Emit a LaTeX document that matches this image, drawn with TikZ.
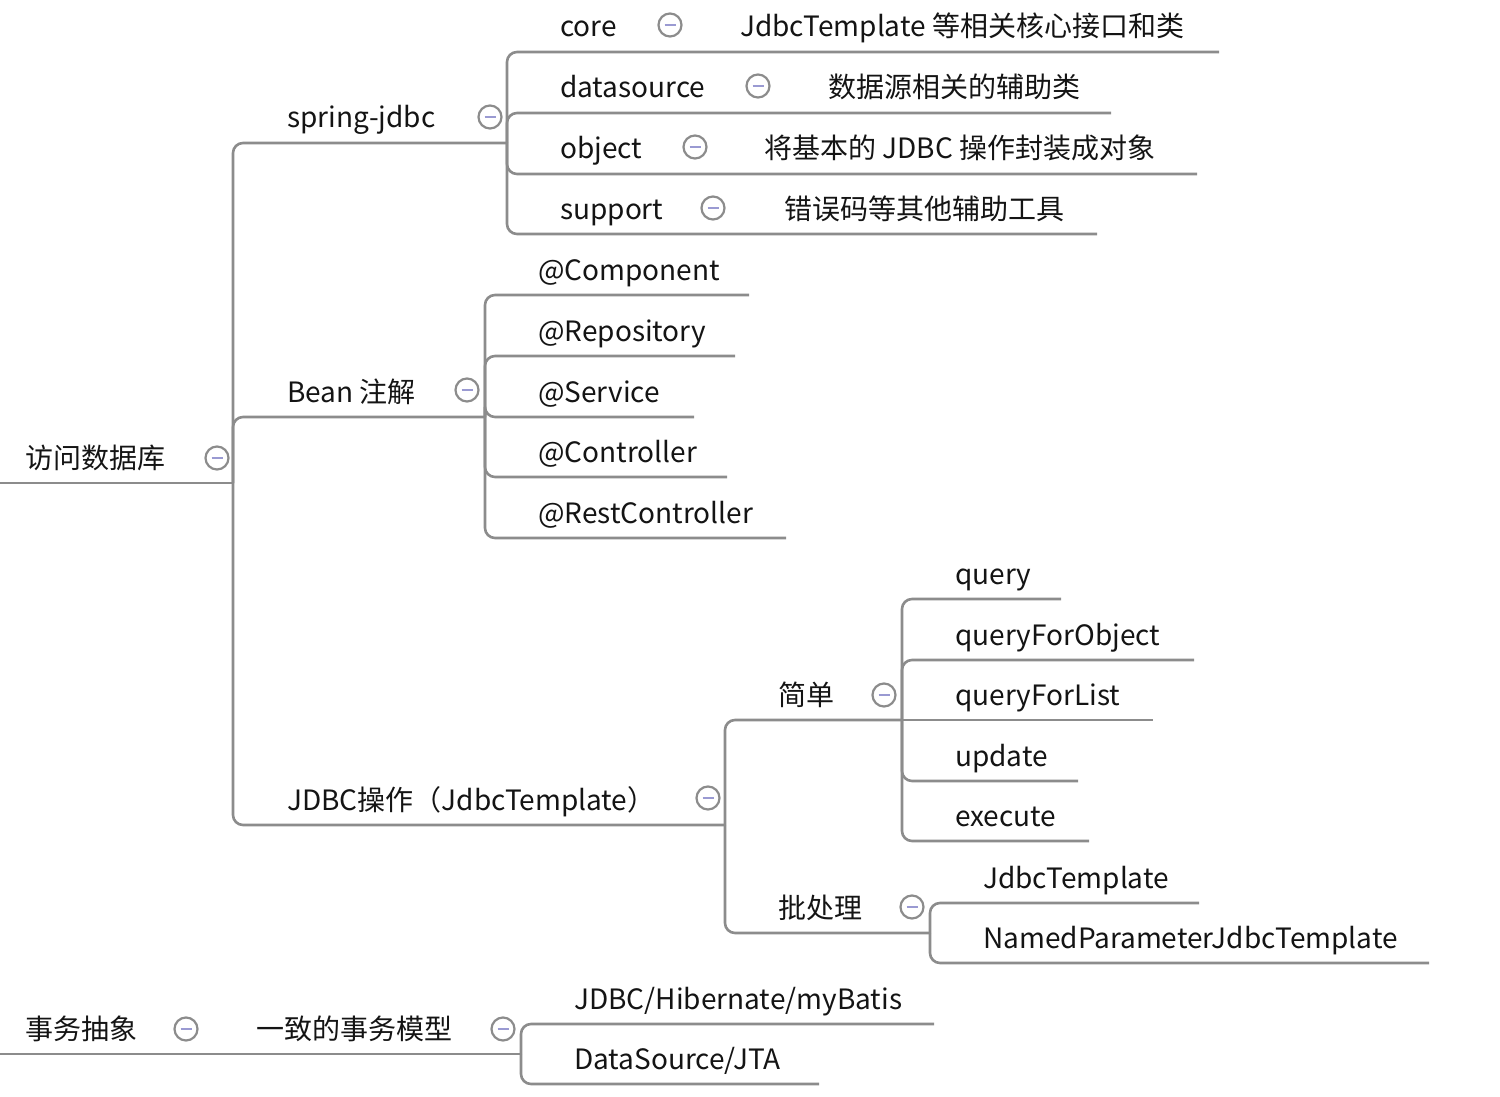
\documentclass[tikz,border=0pt]{standalone}
\usepackage{fontspec}
\setmainfont{Noto Sans CJK SC}
\definecolor{linegray}{HTML}{8C8C8C}
\definecolor{dashblue}{HTML}{9A9AD2}
\tikzset{
  conn/.style={draw=linegray, line width=2.6pt, rounded corners=10pt},
  lbl/.style={anchor=base west, inner sep=0pt, font=\fontsize{28}{32}\selectfont, text=black!92},
  fold/.pic={\draw[draw=linegray, line width=2.2pt, fill=white] (0,0) circle (11.5);
             \draw[draw=dashblue, line width=2pt] (-5.5,0) -- (5.5,0);}
}
\begin{document}
\begin{tikzpicture}[x=1pt, y=-1pt]
\useasboundingbox (0,0) rectangle (1500,1097);
% ---------- coordinates (underline junctions / ends) ----------
\coordinate (r0) at (0,483);
\coordinate (rJ) at (233,483);
\coordinate (sjE) at (507,143);
\coordinate (bnE) at (485,417);
\coordinate (jtE) at (725,825);
\coordinate (coreE) at (1219,52);
\coordinate (dsE) at (1111,113);
\coordinate (objE) at (1197,174);
\coordinate (supE) at (1097,234);
\coordinate (cmpE) at (749,295);
\coordinate (repE) at (735,356);
\coordinate (svcE) at (694,417);
\coordinate (ctlE) at (727,477);
\coordinate (rctE) at (786,538);
\coordinate (smpE) at (902,720);
\coordinate (batE) at (930,933);
\coordinate (qE) at (1061,599);
\coordinate (qoE) at (1194,660);
\coordinate (qlE) at (1153,720);
\coordinate (upE) at (1078,781);
\coordinate (exE) at (1089,841);
\coordinate (jtbE) at (1199,903);
\coordinate (npE) at (1429,963);
\coordinate (t0) at (0,1054);
\coordinate (txE) at (521,1054);
\coordinate (jhE) at (934,1024);
\coordinate (dsjE) at (819,1084);
% ---------- connectors ----------
\draw[conn] (r0) -- (rJ);
\draw[conn] (rJ) |- (sjE);
\draw[conn] (rJ) |- (bnE);
\draw[conn] (rJ) |- (jtE);
\draw[conn] (sjE) |- (coreE);
\draw[conn] (sjE) |- (dsE);
\draw[conn] (sjE) |- (objE);
\draw[conn] (sjE) |- (supE);
\draw[conn] (bnE) |- (cmpE);
\draw[conn] (bnE) |- (repE);
\draw[conn] (bnE) |- (svcE);
\draw[conn] (bnE) |- (ctlE);
\draw[conn] (bnE) |- (rctE);
\draw[conn] (jtE) |- (smpE);
\draw[conn] (jtE) |- (batE);
\draw[conn] (smpE) |- (qE);
\draw[conn] (smpE) |- (qoE);
\draw[conn] (smpE) -- (qlE);
\draw[conn] (smpE) |- (upE);
\draw[conn] (smpE) |- (exE);
\draw[conn] (batE) |- (jtbE);
\draw[conn] (batE) |- (npE);
\draw[conn] (t0) -- (txE);
\draw[conn] (txE) |- (jhE);
\draw[conn] (txE) |- (dsjE);
% ---------- labels ----------
\node[lbl] (root) at (25,468) {访问数据库};
\node[lbl] (sj) at (287,128) {spring-jdbc};
\node[lbl] (bn) at (287,402) {Bean 注解};
\node[lbl] (jt) at (287,810) {JDBC操作（JdbcTemplate）};
\node[lbl] (core) at (560,37) {core};
\node[lbl] (coreD) at (740,37) {JdbcTemplate 等相关核心接口和类};
\node[lbl] (ds) at (560,98) {datasource};
\node[lbl] (dsD) at (828,98) {数据源相关的辅助类};
\node[lbl] (obj) at (560,159) {object};
\node[lbl] (objD) at (764,159) {将基本的 JDBC 操作封装成对象};
\node[lbl] (sup) at (560,219) {support};
\node[lbl] (supD) at (784,219) {错误码等其他辅助工具};
\node[lbl] (cmp) at (538,280) {@Component};
\node[lbl] (rep) at (538,341) {@Repository};
\node[lbl] (svc) at (538,402) {@Service};
\node[lbl] (ctl) at (538,462) {@Controller};
\node[lbl] (rct) at (538,523) {@RestController};
\node[lbl] (smp) at (778,705) {简单};
\node[lbl] (bat) at (778,918) {批处理};
\node[lbl] (q) at (955,584) {query};
\node[lbl] (qo) at (955,645) {queryForObject};
\node[lbl] (ql) at (955,705) {queryForList};
\node[lbl] (up) at (955,766) {update};
\node[lbl] (ex) at (955,826) {execute};
\node[lbl] (jtb) at (983,888) {JdbcTemplate};
\node[lbl] (np) at (983,948) {NamedParameterJdbcTemplate};
\node[lbl] (tx) at (25,1039) {事务抽象};
\node[lbl] (cons) at (256,1039) {一致的事务模型};
\node[lbl] (jh) at (574,1009) {JDBC/Hibernate/myBatis};
\node[lbl] (dsj) at (574,1069) {DataSource/JTA};
% ---------- collapse markers ----------
\pic at (217,458) {fold};
\pic at (490,117) {fold};
\pic at (467,390) {fold};
\pic at (708,798) {fold};
\pic at (670,25) {fold};
\pic at (758,86) {fold};
\pic at (695,147) {fold};
\pic at (713,208) {fold};
\pic at (884,695) {fold};
\pic at (912,907) {fold};
\pic at (186,1029) {fold};
\pic at (503,1029) {fold};
\end{tikzpicture}
\end{document}
